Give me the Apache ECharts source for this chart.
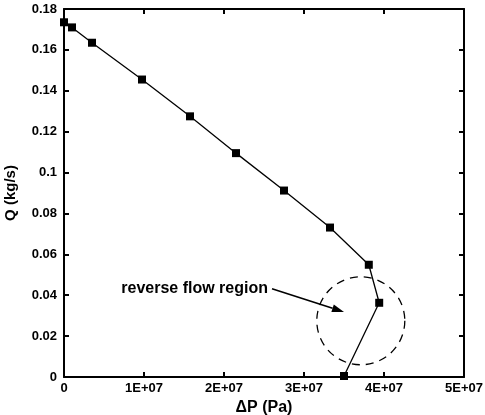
<!DOCTYPE html>
<html>
<head>
<meta charset="utf-8">
<script src="https://cdn.jsdelivr.net/npm/echarts@6/dist/echarts.min.js"></script>
<style>
  html, body { margin: 0; padding: 0; background: #fff; }
  #chart { width: 485px; height: 415px; }
</style>
</head>
<body>
<div id="chart"></div>
<script>
    // pressure drop (Pa) and mass flow (kg/s)
    var dP = [0, 1.0e6, 3.5e6, 9.75e6, 1.575e7, 2.15e7, 2.75e7, 3.325e7, 3.81e7, 3.94e7, 3.5e7];
    var Q = [0.1735, 0.171, 0.1635, 0.1455, 0.1275, 0.1095, 0.0912, 0.0731, 0.0549, 0.0363, 0.0005];

    // annotation: dashed circle + arrow + label
    var circleCenter = [3.71e7, 0.0275];
    var circleRadiusX = 0.55e7;
    var arrowFrom = [2.6e7, 0.0432];
    var arrowTo = [3.5e7, 0.0318];
    var labelText = 'reverse flow region';

    var font = '"Liberation Sans", Arial, sans-serif';

    var points = [];
    for (var i = 0; i < dP.length; i++) {
        points.push([dP[i], Q[i]]);
    }

    var axisCommon = {
        axisLine: { show: true, onZero: false, lineStyle: { color: '#000', width: 2 } },
        axisTick: { show: true, inside: true, length: 5, lineStyle: { color: '#000', width: 2 } },
        splitLine: { show: false }
    };

    var fmtX = function (v) {
        if (v === 0) return '0';
        return (v / 1e7).toFixed(0) + 'E+07';
    };

    var renderNote = function (params, api) {
        var c = api.coord(circleCenter);
        var edge = api.coord([circleCenter[0] + circleRadiusX, circleCenter[1]]);
        var r = edge[0] - c[0];
        var p0 = api.coord(arrowFrom);
        var p1 = api.coord(arrowTo);
        var ang = Math.atan2(p1[1] - p0[1], p1[0] - p0[0]);
        var hl = 12, hw = 4;
        var bx = p1[0] - hl * Math.cos(ang), by = p1[1] - hl * Math.sin(ang);
        var nx = -Math.sin(ang), ny = Math.cos(ang);
        return {
            type: 'group',
            children: [
                {
                    type: 'circle',
                    shape: { cx: c[0], cy: c[1], r: r },
                    style: { fill: 'none', stroke: '#000', lineWidth: 1.3, lineDash: [8, 6] }
                },
                {
                    type: 'line',
                    shape: { x1: p0[0], y1: p0[1], x2: bx, y2: by },
                    style: { stroke: '#000', lineWidth: 1.6 }
                },
                {
                    type: 'polygon',
                    shape: { points: [[p1[0], p1[1]], [bx + nx * hw, by + ny * hw], [bx - nx * hw, by - ny * hw]] },
                    style: { fill: '#000' }
                },
                {
                    type: 'text',
                    x: p0[0] - 4,
                    y: p0[1],
                    style: {
                        text: labelText, fill: '#000', font: 'bold 16px ' + font,
                        align: 'right', verticalAlign: 'middle'
                    }
                }
            ]
        };
    };

    var myChart = echarts.init(document.getElementById('chart'));
    myChart.setOption({
        backgroundColor: '#fff',
        animation: false,
        grid: { left: 64, right: 21, top: 9, bottom: 38, containLabel: false, outerBoundsMode: 'none' },
        xAxis: [
            echarts.util.merge({
                type: 'value', min: 0, max: 5e7, interval: 1e7, position: 'bottom',
                name: 'ΔP (Pa)', nameLocation: 'middle', nameGap: 22,
                nameTextStyle: { color: '#000', fontWeight: 'bold', fontSize: 16, fontFamily: font },
                axisLabel: { color: '#000', fontWeight: 'bold', fontSize: 13, fontFamily: font, margin: 5, formatter: fmtX }
            }, axisCommon, true),
            echarts.util.merge({
                type: 'value', min: 0, max: 5e7, interval: 1e7, position: 'top',
                axisLabel: { show: false }
            }, axisCommon, true)
        ],
        yAxis: [
            echarts.util.merge({
                type: 'value', min: 0, max: 0.18, interval: 0.02, position: 'left',
                name: 'Q (kg/s)', nameLocation: 'middle', nameGap: 46,
                nameTextStyle: { color: '#000', fontWeight: 'bold', fontSize: 15, fontFamily: font },
                axisLabel: {
                    color: '#000', fontWeight: 'bold', fontSize: 13, fontFamily: font, margin: 7,
                    formatter: function (v) { return v === 0 ? '0' : String(+v.toFixed(2)); }
                }
            }, axisCommon, true),
            echarts.util.merge({
                type: 'value', min: 0, max: 0.18, interval: 0.02, position: 'right',
                axisLabel: { show: false }
            }, axisCommon, true)
        ],
        series: [
            {
                type: 'line',
                data: points,
                clip: false,
                symbol: 'rect',
                symbolSize: 8,
                itemStyle: { color: '#000' },
                lineStyle: { color: '#000', width: 1.3 }
            },
            {
                type: 'custom',
                data: [[0, 0]],
                clip: false,
                silent: true,
                renderItem: renderNote
            }
        ]
    });
</script>
</body>
</html>
